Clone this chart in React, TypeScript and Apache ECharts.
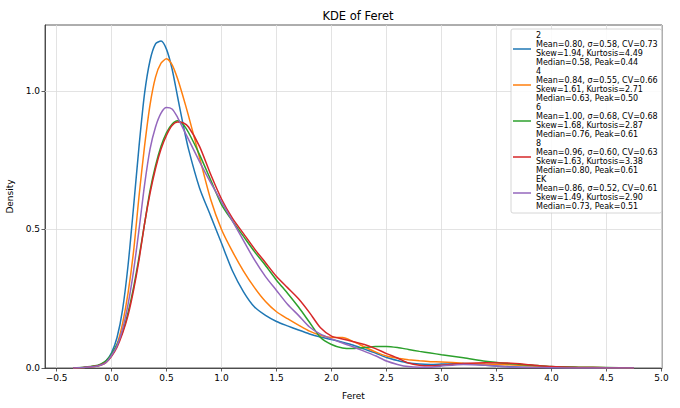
import React, { useEffect, useRef } from 'react';
import * as echarts from 'echarts';

const X = [-0.35, -0.25, -0.15, -0.1, -0.05,
  0, 0.05, 0.1, 0.15, 0.2, 0.25, 0.3, 0.35, 0.4, 0.45, 0.5, 0.55, 0.6, 0.65, 0.7,
  0.8, 0.9, 1.0, 1.1, 1.2, 1.3, 1.4, 1.5, 1.6, 1.7, 1.8, 1.9, 2.0, 2.1, 2.2, 2.3, 2.4, 2.5, 2.6, 2.7, 2.8, 2.9, 3.0,
  3.2, 3.4, 3.6, 3.8, 4.0,
  4.25, 4.5, 4.75];

const Y_2 = [0, 0.002, 0.006, 0.012, 0.026,
  0.055, 0.11, 0.21, 0.37, 0.58, 0.8, 0.99, 1.11, 1.17, 1.18, 1.15, 1.08, 0.98, 0.88, 0.79,
  0.65, 0.55, 0.45, 0.35, 0.275, 0.22, 0.19, 0.168, 0.152, 0.137, 0.123, 0.112, 0.103, 0.093, 0.082, 0.068, 0.054, 0.038, 0.027, 0.018, 0.014, 0.013, 0.014,
  0.016, 0.01, 0.005, 0.003, 0.002,
  0.001, 0, 0];

const Y_4 = [0, 0.002, 0.005, 0.01, 0.02,
  0.045, 0.085, 0.16, 0.27, 0.42, 0.62, 0.8, 0.95, 1.05, 1.1, 1.116, 1.095, 1.045, 0.98, 0.91,
  0.76, 0.61, 0.5, 0.42, 0.35, 0.29, 0.24, 0.203, 0.178, 0.155, 0.133, 0.118, 0.11, 0.11, 0.095, 0.076, 0.058, 0.043, 0.035, 0.03, 0.026, 0.023, 0.022,
  0.017, 0.014, 0.012, 0.008, 0.004,
  0.002, 0.001, 0];

const Y_6 = [0, 0.003, 0.008, 0.014, 0.026,
  0.05, 0.085, 0.13, 0.2, 0.29, 0.4, 0.52, 0.64, 0.73, 0.8, 0.85, 0.88, 0.892, 0.88, 0.85,
  0.77, 0.68, 0.59, 0.53, 0.475, 0.42, 0.37, 0.317, 0.27, 0.22, 0.165, 0.11, 0.085, 0.072, 0.07, 0.074, 0.078, 0.078, 0.074, 0.067, 0.06, 0.054, 0.048,
  0.037, 0.024, 0.016, 0.011, 0.005,
  0.003, 0.002, 0];

const Y_8 = [0, 0.002, 0.006, 0.011, 0.02,
  0.042, 0.075, 0.125, 0.19, 0.28, 0.39, 0.52, 0.63, 0.72, 0.79, 0.84, 0.875, 0.888, 0.885, 0.87,
  0.8, 0.7, 0.61, 0.54, 0.485, 0.43, 0.38, 0.33, 0.29, 0.25, 0.2, 0.145, 0.115, 0.105, 0.095, 0.085, 0.07, 0.052, 0.036, 0.018, 0.01, 0.008, 0.01,
  0.016, 0.019, 0.018, 0.012, 0.005,
  0.002, 0.001, 0];

const Y_EK = [0, 0.002, 0.005, 0.01, 0.02,
  0.045, 0.08, 0.14, 0.23, 0.35, 0.5, 0.66, 0.79, 0.87, 0.92, 0.94, 0.935, 0.905, 0.865, 0.825,
  0.745, 0.67, 0.6, 0.53, 0.46, 0.39, 0.33, 0.28, 0.23, 0.19, 0.148, 0.122, 0.105, 0.09, 0.076, 0.06, 0.044, 0.025, 0.013, 0.005, 0.003, 0.003, 0.007,
  0.013, 0.01, 0.004, 0.002, 0.001,
  0, 0, 0];

const NAMES = ['2', '4', '6', '8', 'EK'];
const CURVES = [Y_2, Y_4, Y_6, Y_8, Y_EK];
const COLORS = ['#1f77b4', '#ff7f0e', '#2ca02c', '#d62728', '#9467bd'];
const MEANS = ['0.80', '0.84', '1.00', '0.96', '0.86'];
const SIGMAS = ['0.58', '0.55', '0.68', '0.60', '0.52'];
const CVS = ['0.73', '0.66', '0.68', '0.63', '0.61'];
const SKEWS = ['1.94', '1.61', '1.68', '1.63', '1.49'];
const KURTS = ['4.49', '2.71', '2.87', '3.38', '2.90'];
const MEDIANS = ['0.58', '0.63', '0.76', '0.80', '0.73'];
const PEAKS = ['0.44', '0.50', '0.61', '0.61', '0.51'];

const X_TICKS = [-0.5, 0, 0.5, 1.0, 1.5, 2.0, 2.5, 3.0, 3.5, 4.0, 4.5, 5.0];
const Y_TICKS = [0, 0.5, 1.0];

const FONT = 'DejaVu Sans';

export default function App() {
  const ref = useRef<HTMLDivElement>(null);
  useEffect(() => {
    if (!ref.current) return;
    const chart = echarts.init(ref.current, null, { renderer: 'svg' });
    const fmt = (v: number) => v.toFixed(1).replace('-', '\u2212');
    const axisColor = '#333';
    chart.setOption({
      animation: false,
      backgroundColor: '#fff',
      title: {
        text: 'KDE of Feret',
        left: 353,
        top: 5,
        textAlign: 'center',
        textStyle: { fontFamily: FONT, fontSize: 11.5, fontWeight: 'normal', color: '#000' },
      },
      grid: { left: 45, right: 18, top: 25, bottom: 40, show: true, borderColor: axisColor, borderWidth: 0.8, containLabel: false, outerBoundsMode: 'none' } as any,
      legend: {
        orient: 'vertical',
        left: 511,
        top: 29,
        z: 10,
        itemWidth: 18,
        itemHeight: 1.5,
        itemGap: 0,
        icon: 'rect',
        padding: [2, 4, 2, 2],
        backgroundColor: 'rgba(255,255,255,0.85)',
        borderColor: '#cccccc',
        borderWidth: 0.8,
        borderRadius: 2,
        data: NAMES,
        formatter: (name: string) => {
          const i = NAMES.indexOf(name);
          return `${name}\nMean=${MEANS[i]}, \u03c3=${SIGMAS[i]}, CV=${CVS[i]}\nSkew=${SKEWS[i]}, Kurtosis=${KURTS[i]}\nMedian=${MEDIANS[i]}, Peak=${PEAKS[i]}`;
        },
        textStyle: { fontFamily: FONT, fontSize: 8, lineHeight: 9, color: '#000' },
      },
      xAxis: {
        type: 'value',
        min: -0.605,
        max: 5.005,
        name: 'Feret',
        nameLocation: 'middle',
        nameGap: 23,
        nameTextStyle: { fontFamily: FONT, fontSize: 9, color: '#000' },
        axisLine: { show: true, onZero: false, lineStyle: { color: axisColor, width: 0.8 } },
        axisTick: { show: true, length: 3.5, customValues: X_TICKS, lineStyle: { color: axisColor, width: 0.8 } },
        axisLabel: { customValues: X_TICKS, formatter: fmt, fontFamily: FONT, fontSize: 9, color: '#000', margin: 5 },
        splitLine: { show: false },
      },
      yAxis: {
        type: 'value',
        min: 0,
        max: 1.238,
        name: 'Density',
        nameLocation: 'middle',
        nameGap: 30,
        nameTextStyle: { fontFamily: FONT, fontSize: 9, color: '#000' },
        axisLine: { show: true, onZero: false, lineStyle: { color: axisColor, width: 0.8 } },
        axisTick: { show: true, length: 3.5, customValues: Y_TICKS, lineStyle: { color: axisColor, width: 0.8 } },
        axisLabel: { customValues: Y_TICKS, formatter: fmt, fontFamily: FONT, fontSize: 9, color: '#000', margin: 5 },
        splitLine: { show: false },
      },
      series: [
        {
          name: '__grid',
          type: 'line',
          data: [],
          z: 1,
          silent: true,
          markLine: {
            z: 1,
            silent: true,
            symbol: ['none', 'none'],
            label: { show: false },
            animation: false,
            lineStyle: { color: '#dcdcdc', width: 0.8, type: 'solid' },
            data: [
              ...X_TICKS.map((v) => ({ xAxis: v })),
              ...Y_TICKS.filter((v) => v > 0).map((v) => ({ yAxis: v })),
            ],
          },
        },
        ...NAMES.map((n, i) => ({
          name: n,
          type: 'line',
          data: X.map((x, j) => [x, CURVES[i][j]]),
          showSymbol: false,
          symbol: 'none',
          smooth: 0.25,
          z: 3,
          color: COLORS[i],
          lineStyle: { width: 1.5, color: COLORS[i] },
        })),
      ],
    });
    return () => chart.dispose();
  }, []);
  return <div ref={ref} style={{ position: 'fixed', left: 0, top: 0, width: 680, height: 408, background: '#fff' }} />;
}
